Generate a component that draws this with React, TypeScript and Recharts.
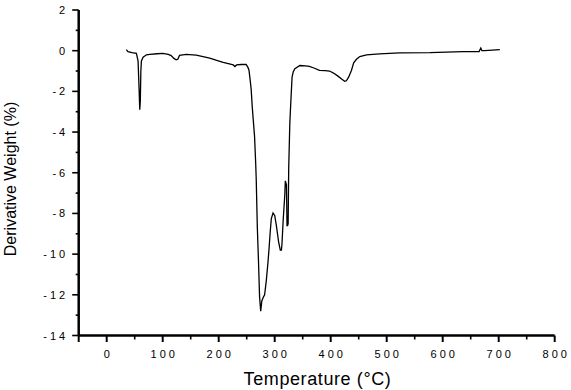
import React from 'react';
import { LineChart, Line, XAxis, YAxis, Label } from 'recharts';

const temperatures = [
  35, 38, 45, 53, 56, 58, 59, 60, 61, 62, 65, 71, 77, 90, 100, 110, 115, 120, 124, 127,
  130, 142, 160, 184, 202, 208, 226, 229, 232, 240, 249, 252, 254, 256, 258, 260, 262, 264, 266, 267,
  269, 271, 273, 275, 277, 280, 282, 285, 288, 290, 292, 294, 297, 300, 303, 305, 307, 310, 312, 313,
  315, 318, 319, 320, 321, 322, 323, 324, 325, 327, 329, 331, 333, 336, 345, 355, 362, 370, 380, 390,
  398, 405, 413, 420, 425, 428, 432, 437, 441, 446, 452, 464, 487, 523, 577, 636, 665, 668, 670, 675,
  702,
];

const derivWeight = [
  0.05, -0.05, -0.1, -0.13, -0.5, -2.0, -2.9, -2.5, -1.0, -0.5, -0.32, -0.2, -0.18, -0.15, -0.13, -0.18, -0.24, -0.38, -0.45, -0.42,
  -0.23, -0.18, -0.22, -0.36, -0.52, -0.57, -0.7, -0.78, -0.7, -0.68, -0.68, -0.81, -0.95, -1.4, -1.9, -2.8, -3.5, -4.2, -5.5, -6.3,
  -8.7, -10.3, -12.1, -12.8, -12.3, -12.1, -12.0, -11.3, -10.4, -9.7, -8.9, -8.25, -7.98, -8.1, -8.6, -9.0, -9.4, -9.8, -9.8, -9.5,
  -8.4, -7.1, -6.4, -6.5, -6.6, -8.6, -8.6, -8.5, -5.8, -3.56, -2.4, -1.3, -1.05, -0.89, -0.73, -0.75, -0.77, -0.85, -0.97, -0.98,
  -1.0, -1.1, -1.25, -1.4, -1.5, -1.48, -1.3, -0.97, -0.6, -0.42, -0.29, -0.21, -0.16, -0.11, -0.1, -0.05, -0.04, 0.13, 0.0, 0.0,
  0.05,
];

const xTicks = [-50, 0, 50, 100, 150, 200, 250, 300, 350, 400, 450, 500, 550, 600, 650, 700, 750, 800];
const xLabeled = [0, 100, 200, 300, 400, 500, 600, 700, 800];
const yTicks = [-14, -13, -12, -11, -10, -9, -8, -7, -6, -5, -4, -3, -2, -1, 0, 1, 2];
const yLabeled = [-14, -12, -10, -8, -6, -4, -2, 0, 2];

const data = temperatures.map((t, i) => ({ t, v: derivWeight[i] }));

const FONT = '"Liberation Sans", Arial, sans-serif';

const XTick = (props: any) => {
  const { x, y, payload } = props;
  const v = payload.value;
  const major = xLabeled.includes(v) || v === -50;
  return (
    <g>
      <line x1={x} y1={y} x2={x} y2={y + (major ? 6.5 : 4)} stroke="#000" strokeWidth={major ? 2 : 1.6} />
      {xLabeled.includes(v) && (
        <text x={x} y={y + 22} dx={1.5} textAnchor="middle" fontFamily={FONT} fontSize={11} letterSpacing={3} fill="#000">
          {String(v)}
        </text>
      )}
    </g>
  );
};

const YTick = (props: any) => {
  const { x, y, payload } = props;
  const v = payload.value;
  const major = yLabeled.includes(v);
  return (
    <g>
      <line x1={x - (major ? 6.5 : 3)} y1={y} x2={x} y2={y} stroke="#000" strokeWidth={1.6} />
      {major && (
        <text x={x - 13.5} y={y + 4} dx={3} textAnchor="end" fontFamily={FONT} fontSize={11} letterSpacing={3} fill="#000">
          {String(v)}
        </text>
      )}
    </g>
  );
};

export default function App() {
  return (
    <div style={{ position: 'absolute', left: 0, top: 0, width: 571, height: 390, background: '#fff' }}>
      <LineChart width={571} height={390} data={data} margin={{ top: 10, right: 16.3, left: 0, bottom: 0 }}>
        <XAxis
          dataKey="t"
          type="number"
          domain={[-50, 800]}
          ticks={xTicks}
          interval={0}
          allowDataOverflow
          height={54.5}
          tickSize={0}
          tickMargin={0}
          tickLine={false}
          tick={<XTick />}
          axisLine={{ stroke: '#000', strokeWidth: 2.5 }}
        >
          <Label
            content={() => (
              <text x={317.5} y={385} textAnchor="middle" fontFamily={FONT} fontSize={18} letterSpacing={0.6} fill="#000">
                Temperature (°C)
              </text>
            )}
          />
        </XAxis>
        <YAxis
          type="number"
          domain={[-14, 2]}
          ticks={yTicks}
          interval={0}
          allowDataOverflow
          width={78.7}
          tickSize={0}
          tickMargin={0}
          tickLine={false}
          tick={<YTick />}
          axisLine={{ stroke: '#000', strokeWidth: 2.5 }}
        >
          <Label
            content={() => (
              <text
                x={16}
                y={179}
                transform="rotate(-90 16 179)"
                textAnchor="middle"
                fontFamily={FONT}
                fontSize={16}
                fill="#000"
              >
                Derivative Weight (%)
              </text>
            )}
          />
        </YAxis>
        <Line
          type="linear"
          dataKey="v"
          stroke="#000"
          strokeWidth={1.3}
          dot={false}
          isAnimationActive={false}
        />
      </LineChart>
    </div>
  );
}
